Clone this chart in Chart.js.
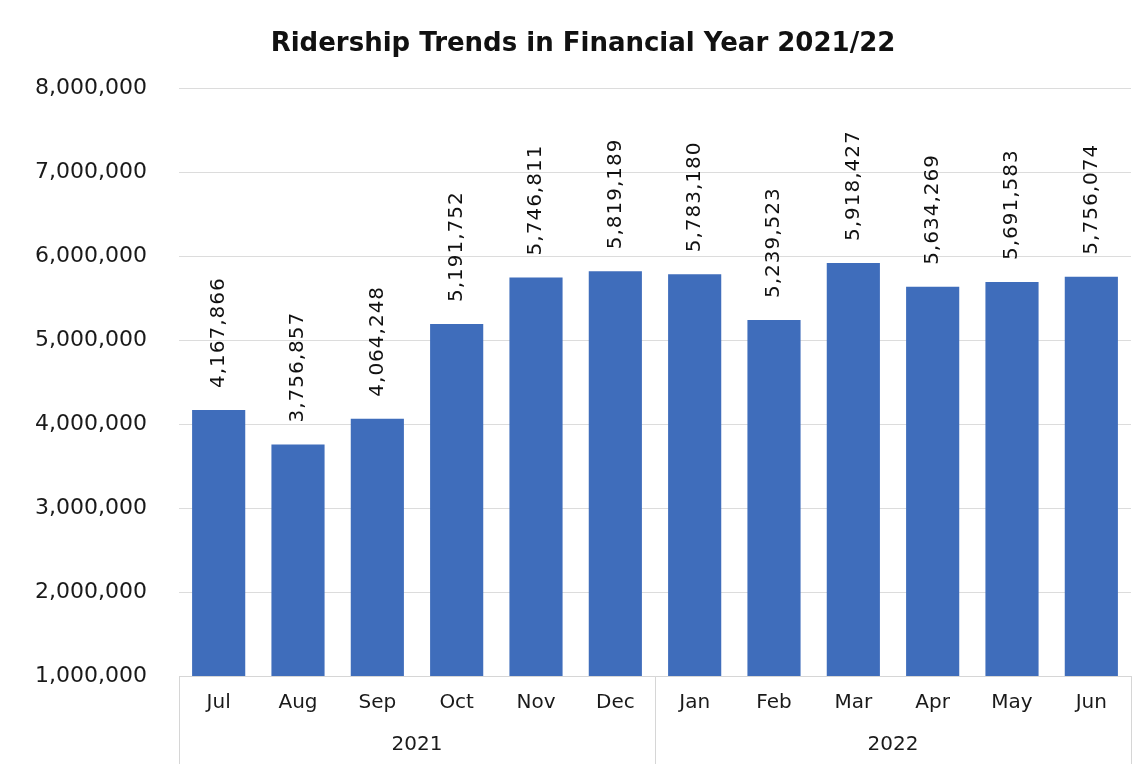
<!DOCTYPE html>
<html>
<head>
<meta charset="utf-8">
<script src="https://cdn.jsdelivr.net/npm/chart.js@4"></script>
<style>
  html, body { margin: 0; padding: 0; background: #fff; }
  #wrap { width: 1146px; height: 764px; }
</style>
</head>
<body>
<div id="wrap"><canvas id="c" width="1146" height="764"></canvas></div>
<script>
const months = ['Jul','Aug','Sep','Oct','Nov','Dec','Jan','Feb','Mar','Apr','May','Jun'];
const years = ['2021','2022'];
const ridership = [4167866, 3756857, 4064248, 5191752, 5746811, 5819189, 5783180, 5239523, 5918427, 5634269, 5691583, 5756074];
const yMin = 1000000;
const yMax = 8000000;
const yStep = 1000000;

const FONT = '"DejaVu Sans", sans-serif';
const SEP = '#d6d6d6';

const valueLabels = {
  id: 'valueLabels',
  afterDatasetsDraw(chart) {
    const ctx = chart.ctx;
    const meta = chart.getDatasetMeta(0);
    ctx.save();
    ctx.font = '20px "DejaVu Sans", sans-serif';
    try { ctx.letterSpacing = '1px'; } catch (e) {}
    ctx.fillStyle = '#111';
    ctx.textAlign = 'left';
    ctx.textBaseline = 'middle';
    meta.data.forEach((el, i) => {
      ctx.save();
      ctx.translate(el.x, el.y - 22);
      ctx.rotate(-Math.PI / 2);
      ctx.fillText(chart.data.datasets[0].data[i].toLocaleString('en-US'), 0, 0);
      ctx.restore();
    });
    ctx.restore();
  }
};

new Chart(document.getElementById('c'), {
  type: 'bar',
  data: {
    labels: months,
    datasets: [{
      data: ridership,
      backgroundColor: '#3f6dbb',
      categoryPercentage: 1,
      barPercentage: 0.67
    }]
  },
  options: {
    responsive: false,
    animation: false,
    layout: { padding: { left: 35, right: 15, top: 0, bottom: 0 } },
    plugins: {
      legend: { display: false },
      tooltip: { enabled: false },
      title: {
        display: true,
        text: 'Ridership Trends in Financial Year 2021/22',
        color: '#111',
        font: { family: FONT, size: 26, weight: 'bold' },
        padding: { top: 29, bottom: 28 }
      }
    },
    scales: {
      x: {
        type: 'category',
        position: 'bottom',
        offset: true,
        border: { display: true, color: SEP, width: 1 },
        grid: {
          offset: true,
          drawOnChartArea: false,
          drawTicks: true,
          tickLength: 44,
          color: (c) => (c.index === undefined || c.index === 0 || c.index === 6) ? SEP : 'rgba(0,0,0,0)'
        },
        ticks: {
          padding: -29,
          color: '#1a1a1a',
          maxRotation: 0,
          autoSkip: false,
          font: { family: FONT, size: 20 }
        },
        afterFit: (s) => { s.height = 44; }
      },
      x2: {
        type: 'category',
        position: 'bottom',
        labels: years,
        offset: true,
        border: { display: false },
        grid: {
          offset: true,
          drawOnChartArea: false,
          drawTicks: true,
          tickLength: 44,
          color: SEP
        },
        ticks: {
          padding: -31,
          color: '#1a1a1a',
          maxRotation: 0,
          font: { family: FONT, size: 20 }
        },
        afterFit: (s) => { s.height = 44; }
      },
      y: {
        min: yMin,
        max: yMax,
        border: { display: false },
        grid: { color: '#dcdcdc', drawTicks: false },
        ticks: {
          stepSize: yStep,
          padding: 32,
          color: '#1a1a1a',
          font: { family: FONT, size: 22 },
          callback: (v) => v.toLocaleString('en-US')
        },
        afterFit: (s) => { s.width = 144; }
      }
    }
  },
  plugins: [valueLabels]
});
</script>
</body>
</html>
